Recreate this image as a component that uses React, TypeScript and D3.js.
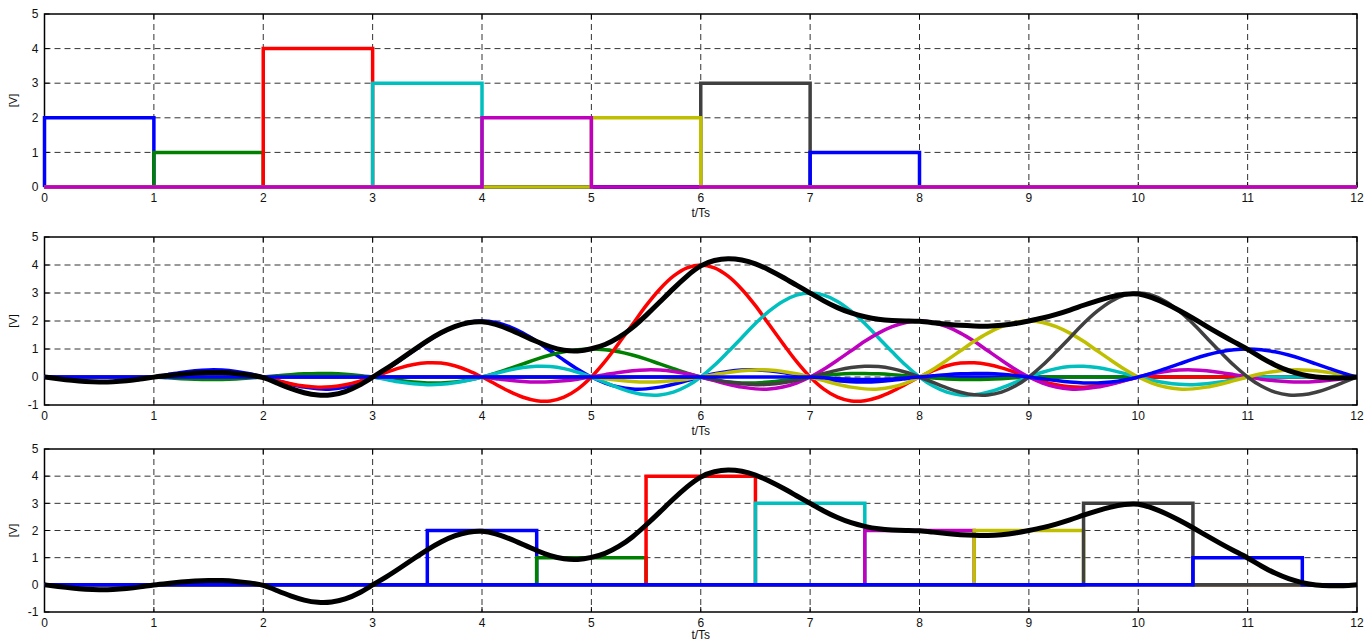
import React from 'react';
import * as d3 from 'd3';

// symbol amplitudes and their colours (in transmit order)
const amplitudes = [2, 1, 4, 3, 2, 2, 3, 1];
const pulseColors = ['#0000ff', '#008000', '#ff0000', '#00bfbf', '#bf00bf', '#bfbf00', '#404040', '#0000ff'];

// normalised pulse shape, t/Ts = 0 .. 4 in steps of 0.125 (symmetric)
const shapeStep = 0.125;
const halfShape = [
  1, 0.974, 0.9, 0.784, 0.637, 0.468, 0.3, 0.139,
  0, -0.108, -0.18, -0.214, -0.212, -0.181, -0.129, -0.065,
  0, 0.057, 0.1, 0.124, 0.127, 0.112, 0.082, 0.042,
  0, -0.039, -0.069, -0.087, -0.091, -0.081, -0.06, -0.031,
  0,
];
const pulseShape = [...halfShape.slice(1).reverse(), ...halfShape];
const pulseDelay = 4; // pulse k peaks at k + 4
const rectDelay = 3.5; // bottom panel rectangles start at k + 3.5

// top panel draw order (last one sits on the zero line)
const topDrawOrder = [0, 1, 2, 3, 6, 7, 5, 4];

const xTickValues = [0, 1, 2, 3, 4, 5, 6, 7, 8, 9, 10, 11, 12];
const topYTicks = [0, 1, 2, 3, 4, 5];
const lowYTicks = [-1, 0, 1, 2, 3, 4, 5];
const timeGrid = d3.range(0, 12 + 1e-9, shapeStep);

const W = 1366;
const H = 642;
const X0 = 44.5;
const X1 = 1357;
const FONT = 'Liberation Sans, Arial, Helvetica, sans-serif';

const pulseAt = (k: number, t: number) => {
  const idx = Math.round((t - (k + pulseDelay)) / shapeStep) + (pulseShape.length - 1) / 2;
  if (idx < 0 || idx >= pulseShape.length) return 0;
  return amplitudes[k] * pulseShape[idx];
};

const rectPoints = (start: number, amp: number): [number, number][] => [
  [0, 0], [start, 0], [start, amp], [start + 1, amp], [start + 1, 0], [12, 0],
];

function Panel({ top, bottom, yDomain, yTicks, children }: any) {
  const x = d3.scaleLinear().domain([0, 12]).range([X0, X1]);
  const y = d3.scaleLinear().domain(yDomain).range([bottom, top]);
  return (
    <g>
      {/* grid */}
      {xTickValues.slice(1, -1).map((t) => (
        <line key={`gx${t}`} x1={x(t)} x2={x(t)} y1={top} y2={bottom}
          stroke="#333" strokeWidth={1} strokeDasharray="6,4" />
      ))}
      {yTicks.slice(1, -1).map((v: number) => (
        <line key={`gy${v}`} x1={X0} x2={X1} y1={y(v)} y2={y(v)}
          stroke="#333" strokeWidth={1} strokeDasharray="6,4" />
      ))}
      {/* box */}
      <rect x={X0} y={top} width={X1 - X0} height={bottom - top} fill="none" stroke="#000" strokeWidth={1.5} />
      {/* ticks */}
      {xTickValues.map((t) => (
        <g key={`tx${t}`}>
          <line x1={x(t)} x2={x(t)} y1={bottom} y2={bottom - 5} stroke="#000" />
          <line x1={x(t)} x2={x(t)} y1={top} y2={top + 5} stroke="#000" />
          <text x={x(t)} y={bottom + 15} textAnchor="middle" fontSize={12} fontFamily={FONT} fill="#111">{t}</text>
        </g>
      ))}
      {yTicks.map((v: number) => (
        <g key={`ty${v}`}>
          <line x1={X0} x2={X0 + 5} y1={y(v)} y2={y(v)} stroke="#000" />
          <line x1={X1} x2={X1 - 5} y1={y(v)} y2={y(v)} stroke="#000" />
          <text x={X0 - 6} y={y(v)} dy="0.35em" textAnchor="end" fontSize={12} fontFamily={FONT} fill="#111">{v}</text>
        </g>
      ))}
      {children(x, y)}
      <text x={(X0 + X1) / 2} y={Math.min(bottom + 30, H - 3)} textAnchor="middle" fontSize={12} fontFamily={FONT} fill="#111">t/Ts</text>
      <text transform={`translate(17,${(top + bottom) / 2}) rotate(-90)`} textAnchor="middle" fontSize={11} fontFamily={FONT} fill="#111">[V]</text>
    </g>
  );
}

export default function App() {
  const sumSignal = timeGrid.map((t) => [t, d3.sum(amplitudes, (_, k) => pulseAt(k, t))] as [number, number]);

  return (
    <svg width={W} height={H} style={{ position: 'absolute', left: 0, top: 0, background: '#fff' }}>
      {/* top: transmitted symbols */}
      <Panel top={14} bottom={187} yDomain={[0, 5]} yTicks={topYTicks}>
        {(x: any, y: any) => {
          const line = d3.line<[number, number]>().x((d) => x(d[0])).y((d) => y(d[1]));
          return topDrawOrder.map((k) => (
            <path key={k} d={line(rectPoints(k, amplitudes[k])) || ''} fill="none"
              stroke={pulseColors[k]} strokeWidth={3.5} strokeLinejoin="miter" />
          ));
        }}
      </Panel>

      {/* middle: shaped pulses and their sum */}
      <Panel top={237} bottom={405} yDomain={[-1, 5]} yTicks={lowYTicks}>
        {(x: any, y: any) => {
          const line = d3.line<[number, number]>().x((d) => x(d[0])).y((d) => y(d[1])).curve(d3.curveCatmullRom);
          const smooth = d3.line<[number, number]>().x((d) => x(d[0])).y((d) => y(d[1])).curve(d3.curveBasis);
          return (
            <g>
              {amplitudes.map((_, k) => (
                <path key={k} d={line(timeGrid.map((t) => [t, pulseAt(k, t)])) || ''} fill="none"
                  stroke={pulseColors[k]} strokeWidth={3.5} />
              ))}
              <path d={smooth(sumSignal) || ''} fill="none" stroke="#000" strokeWidth={5} />
            </g>
          );
        }}
      </Panel>

      {/* bottom: received signal with delayed symbols */}
      <Panel top={449} bottom={612} yDomain={[-1, 5]} yTicks={lowYTicks}>
        {(x: any, y: any) => {
          const line = d3.line<[number, number]>().x((d) => x(d[0])).y((d) => y(d[1]));
          const smooth = d3.line<[number, number]>().x((d) => x(d[0])).y((d) => y(d[1])).curve(d3.curveBasis);
          return (
            <g>
              {amplitudes.map((a, k) => (
                <path key={k} d={line(rectPoints(k + rectDelay, a)) || ''} fill="none"
                  stroke={pulseColors[k]} strokeWidth={3.5} />
              ))}
              <path d={smooth(sumSignal) || ''} fill="none" stroke="#000" strokeWidth={5} />
            </g>
          );
        }}
      </Panel>
    </svg>
  );
}
